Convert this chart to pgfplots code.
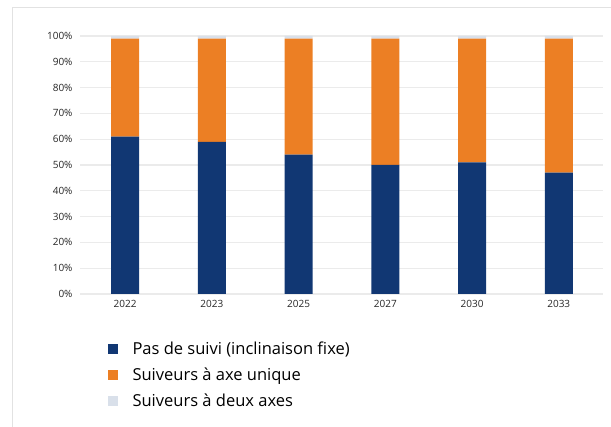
\documentclass[border=0pt]{standalone}
\usepackage{pgfplots}
\pgfplotsset{compat=1.18}
\usepackage{fontspec}
\setmainfont{Open Sans}
\definecolor{cblue}{HTML}{113773}
\definecolor{corange}{HTML}{EC7F24}
\definecolor{cgray}{HTML}{D9E0EA}
\definecolor{cgrid}{HTML}{EBEBEB}
\definecolor{cframe}{HTML}{E2E2E2}
\begin{document}
\begin{tikzpicture}[x=1pt,y=1pt]
\useasboundingbox (0,0) rectangle (611,-427);
\draw[cframe,line width=1pt] (12,-427) -- (12,-8) -- (611,-8);
\begin{axis}[
  at={(80pt,-294pt)}, anchor=south west,
  scale only axis, width=523pt, height=258pt,
  ybar stacked, bar width=28pt,
  xmin=-0.52, xmax=5.51, ymin=0, ymax=100,
  xtick=data, xticklabels={2022,2023,2025,2027,2030,2033},
  ytick={0,10,...,100},
  yticklabel={\pgfmathprintnumber{\tick}\%},
  /pgf/number format/assume math mode=true,
  tick label style={font=\fontsize{10}{12}\selectfont, text=black!85},
  major tick length=0,
  axis line style={draw=none},
  ymajorgrids, grid style={cgrid, line width=1.2pt},
  yticklabel style={xshift=-4pt},
  xticklabel style={yshift=-3pt},
  legend style={at={(0.0475,-0.170)}, anchor=north west, draw=none,
    font=\fontsize{16.5}{19}\selectfont, row sep=8pt,
    /tikz/every odd column/.append style={column sep=12.5pt}},
  legend cell align=left,
  legend image code/.code={\fill[#1] (0pt,-5pt) rectangle (10pt,5pt);},
]
\addplot[fill=cblue, draw=none] coordinates {(0,61) (1,59) (2,54) (3,50) (4,51) (5,47)};
\addplot[fill=corange, draw=none] coordinates {(0,38) (1,40) (2,45) (3,49) (4,48) (5,52)};
\addplot[fill=cgray, draw=none] coordinates {(0,1) (1,1) (2,1) (3,1) (4,1) (5,1)};
\legend{Pas de suivi (inclinaison fixe), Suiveurs à axe unique, Suiveurs à deux axes}
\end{axis}
\end{tikzpicture}
\end{document}
